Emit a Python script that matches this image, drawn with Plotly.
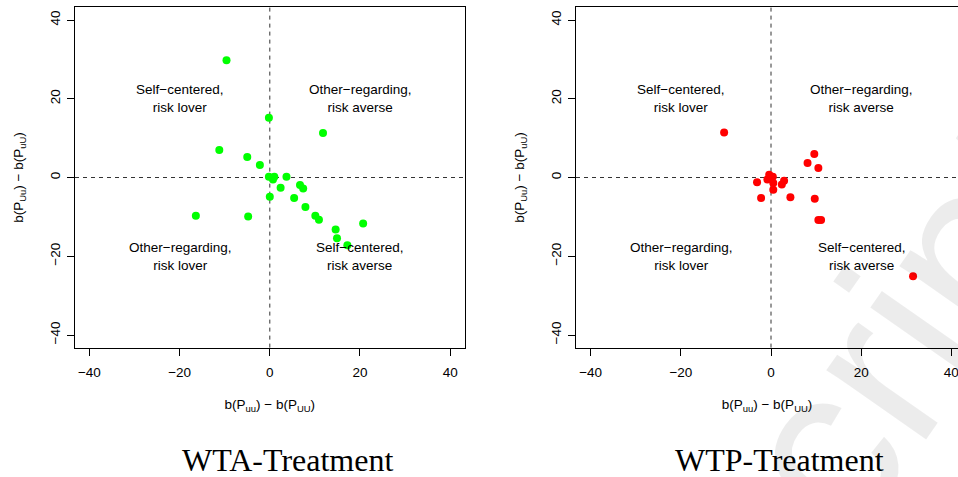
import plotly.graph_objects as go

# WTA treatment (green)
wta_x = [-9.6, -0.2, 11.8, -11.2, -5.0, -2.2, -0.2, 1.0, 0.7, 3.7, 2.4, 6.7, 7.4, 5.4,
         0.0, 7.9, 10.1, 10.9, -16.4, -4.8, 20.7, 14.6, 14.9, 17.2]
wta_y = [29.8, 15.2, 11.3, 7.0, 5.2, 3.2, 0.2, 0.2, -0.5, 0.2, -2.6, -1.9, -2.8, -5.2,
         -4.9, -7.5, -9.7, -10.7, -9.7, -9.9, -11.7, -13.2, -15.4, -17.2]

# WTP treatment (red)
wtp_x = [-10.4, 9.6, 8.1, 10.5, -0.4, 0.4, -0.8, 0.5, -3.1, 2.9, 2.4, 0.5, -2.2, 4.3,
         9.7, 10.5, 11.1, 31.5]
wtp_y = [11.4, 6.0, 3.7, 2.4, 0.7, 0.2, -0.5, -1.4, -1.2, -0.8, -1.8, -3.1, -5.2, -5.0,
         -5.4, -10.8, -10.8, -25.1]

quad_x = [-20, 20, -20, 20]
quad_y = [20, 20, -20, -20]
quad_text = ["Self\u2212centered,<br>risk lover", "Other\u2212regarding,<br>risk averse",
             "Other\u2212regarding,<br>risk lover", "Self\u2212centered,<br>risk averse"]

ticks = [-40, -20, 0, 20, 40]
panel_titles = ["WTA-Treatment", "WTP-Treatment"]
x_title = "b(P<sub>uu</sub>) \u2212 b(P<sub>UU</sub>)"
y_title = "b(P<sub>Uu</sub>) \u2212 b(P<sub>uU</sub>)"
watermark = "Manuscript"

W, H = 958, 477
FONT = "Liberation Sans, Arial, Helvetica, sans-serif"

fig = go.Figure()
fig.add_trace(go.Scatter(x=wta_x, y=wta_y, mode="markers", xaxis="x", yaxis="y",
                         marker=dict(color="#00ff00", size=8, line=dict(width=0)),
                         showlegend=False, hoverinfo="skip"))
fig.add_trace(go.Scatter(x=wtp_x, y=wtp_y, mode="markers", xaxis="x2", yaxis="y2",
                         marker=dict(color="#ff0000", size=8, line=dict(width=0)),
                         showlegend=False, hoverinfo="skip"))

ydom = [1 - 347.6 / H, 1 - 7.4 / H]
axis_common = dict(
    showgrid=False, zeroline=False, showline=True, linecolor="black", linewidth=1,
    ticks="outside", ticklen=7, tickwidth=1, tickcolor="black",
    tickvals=ticks, tickfont=dict(family=FONT, size=13.5, color="black"),
    title_font=dict(family=FONT, size=13.5, color="black"),
    ticklabeloverflow="allow",
)
xaxis_extra = dict(ticklabelstandoff=5, title=dict(text=x_title, standoff=20))
yaxis_extra = dict(tickangle=-90, ticklabelstandoff=2, title=dict(text=y_title, standoff=20))

fig.update_layout(
    width=W, height=H, margin=dict(l=0, r=0, t=0, b=0),
    paper_bgcolor="white", plot_bgcolor="white",
    xaxis=dict(axis_common, **xaxis_extra, domain=[75 / W, 464.6 / W], range=[-43.2, 43.2],
               anchor="y", mirror=True),
    yaxis=dict(axis_common, **yaxis_extra, domain=ydom, range=[-43.2, 43.2], anchor="x",
               mirror=True),
    xaxis2=dict(axis_common, **xaxis_extra, domain=[576 / W, 1.0], range=[-43.25, 41.47],
                anchor="y2", mirror=True),
    yaxis2=dict(axis_common, **yaxis_extra, domain=ydom, range=[-43.2, 43.2], anchor="x2",
                mirror=False),
)

# dashed reference lines and quadrant labels
for xr, yr in [("x", "y"), ("x2", "y2")]:
    fig.add_shape(type="line", xref=xr, yref=yr + " domain", x0=0, x1=0, y0=0, y1=1,
                  line=dict(color="#333333", width=1, dash="4px,4px"), layer="below")
    fig.add_shape(type="line", xref=xr + " domain", yref=yr, x0=0, x1=1, y0=0, y1=0,
                  line=dict(color="#333333", width=1, dash="4px,4px"), layer="below")
    for qx, qy, qt in zip(quad_x, quad_y, quad_text):
        fig.add_annotation(x=qx, y=qy, xref=xr, yref=yr, text=qt, showarrow=False,
                           font=dict(family=FONT, size=13.5, color="black"))

# panel captions
for cx, t in zip([287.5 / W, 779 / W], panel_titles):
    fig.add_annotation(x=cx, y=1 - 460 / H, xref="paper", yref="paper", text=t,
                       showarrow=False, xanchor="center", yanchor="middle",
                       font=dict(family="Liberation Serif, Times New Roman, serif",
                                 size=32, color="black"))

# faint watermark, mostly outside the page
fig.add_annotation(x=712 / W, y=1 - 606 / H, xref="paper", yref="paper", text=watermark,
                   showarrow=False, textangle=-55, xanchor="center", yanchor="middle",
                   font=dict(family=FONT, size=230, color="rgba(0,0,0,0.075)"))

fig.write_html("out.html", config={"displayModeBar": False},
               post_script="document.body.style.margin='0';document.body.style.overflow='hidden';")
